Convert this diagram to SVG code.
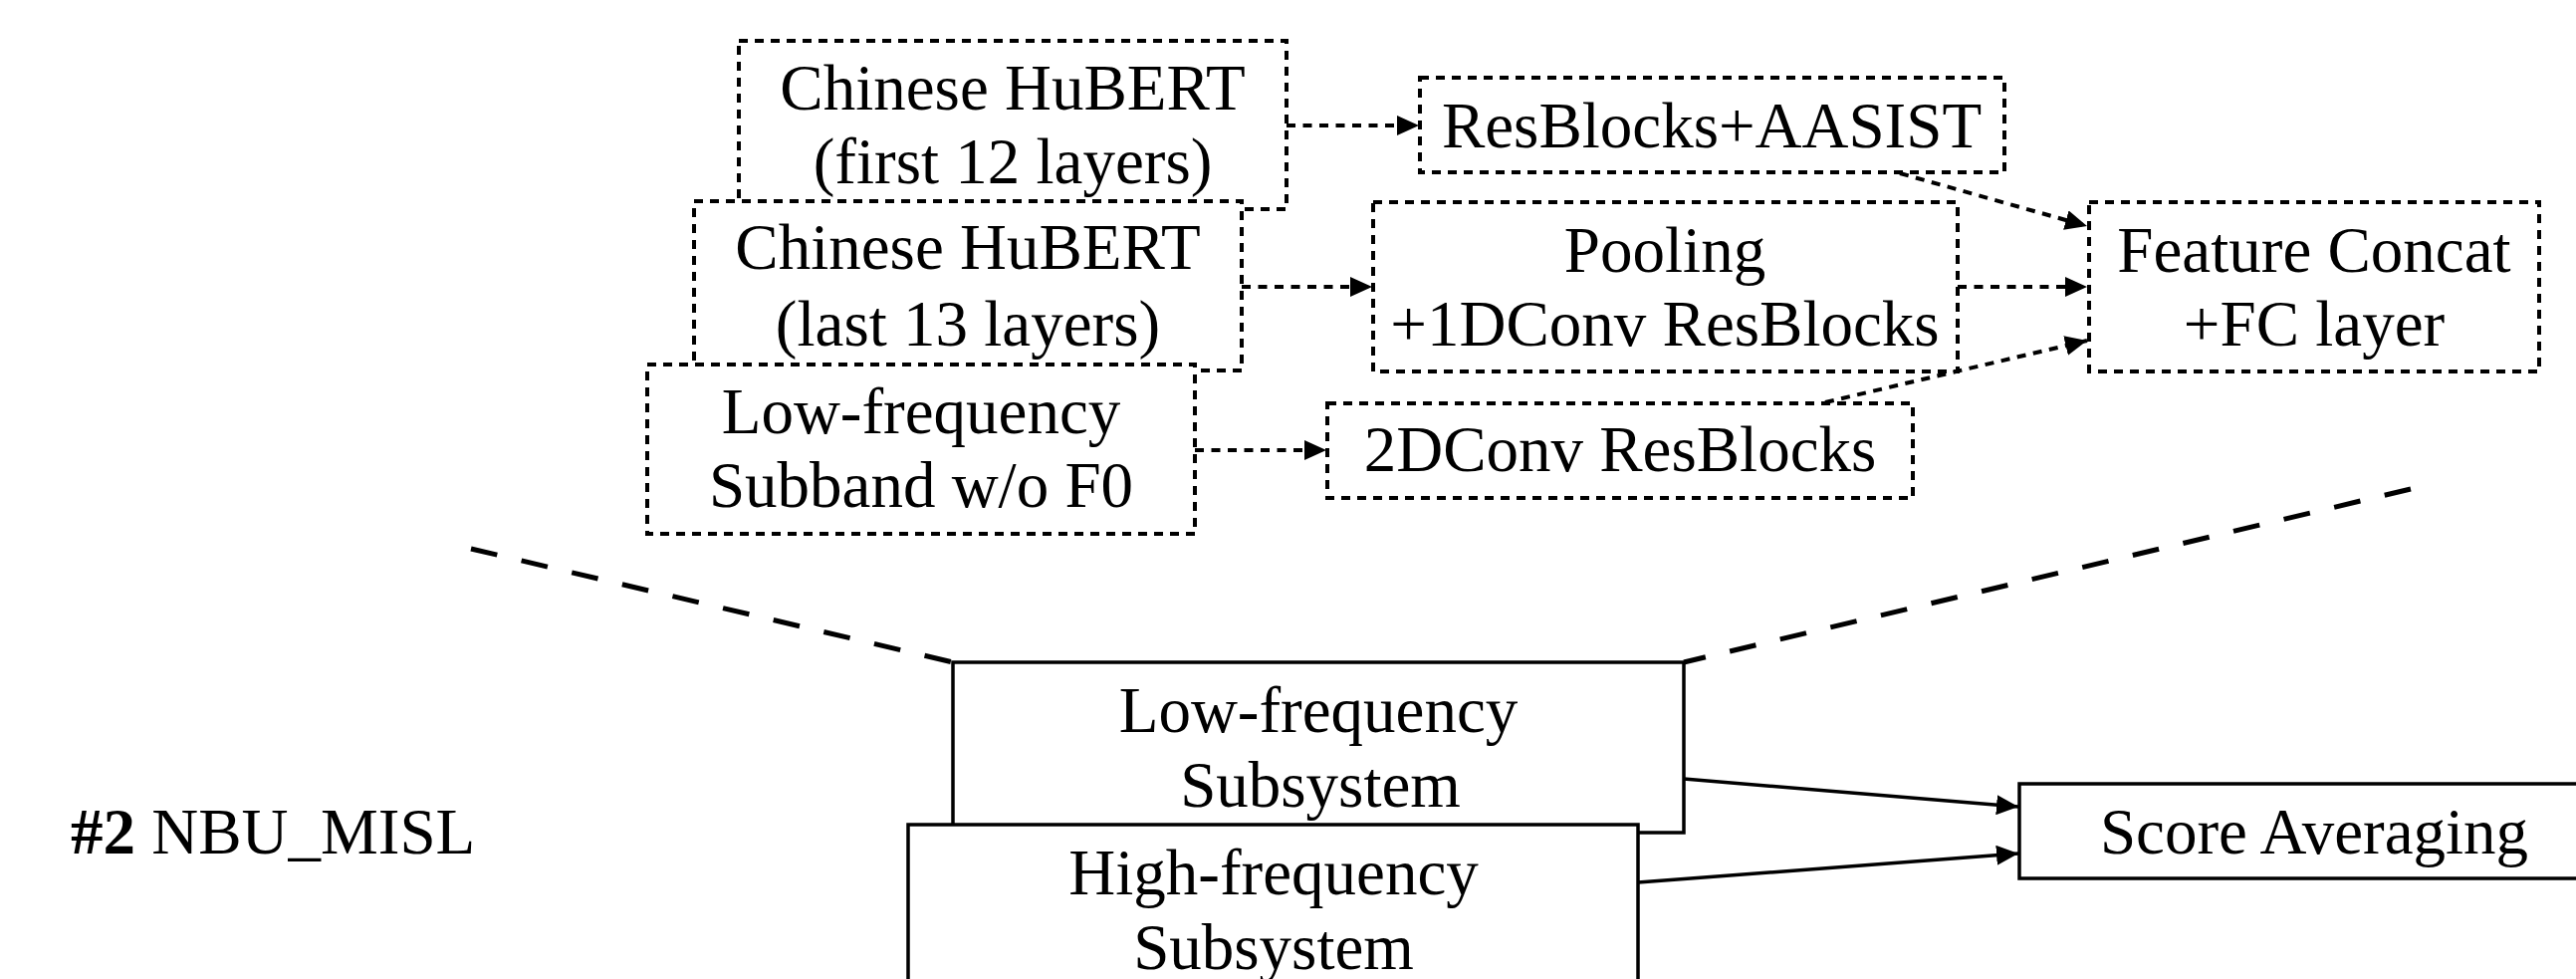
<svg xmlns="http://www.w3.org/2000/svg" width="2587" height="983" viewBox="0 0 2587 983">
  <defs>
    <marker id="head" viewBox="0 0 22 20" refX="22" refY="10" markerWidth="22" markerHeight="20" markerUnits="userSpaceOnUse" orient="auto">
      <path d="M0,0 L22,10 L0,20 Z" fill="#000"/>
    </marker>
    <style>
      .dbox { fill: #fff; stroke: #000; stroke-width: 4; stroke-dasharray: 9 7; }
      .sbox { fill: #fff; stroke: #000; stroke-width: 3.5; }
      .dlink { fill: none; stroke: #000; stroke-width: 4; stroke-dasharray: 9 7.5; marker-end: url(#head); }
      .slink { fill: none; stroke: #000; stroke-width: 3.5; marker-end: url(#head); }
      .zoom { fill: none; stroke: #000; stroke-width: 5; stroke-dasharray: 27 25; }
      text { font-family: "Liberation Serif", "Times New Roman", serif; font-size: 65px; fill: #000; }
      .c { text-anchor: middle; }
    </style>
  </defs>
  <rect width="2587" height="983" fill="#fff"/>

  <!-- expansion lines from the low-frequency subsystem to its detail view -->
  <g id="zoom-lines">
    <line class="zoom" x1="473" y1="551" x2="957" y2="665"/>
    <line class="zoom" x1="2421" y1="491" x2="1691" y2="665"/>
  </g>

  <!-- detail view: low-frequency subsystem internals -->
  <g id="hubert-first">
    <rect class="dbox" x="742" y="41" width="550" height="169"/>
    <text class="c" x="1017" y="110">Chinese HuBERT</text>
    <text class="c" x="1017" y="184">(first 12 layers)</text>
  </g>
  <g id="hubert-last">
    <rect class="dbox" x="697" y="202" width="550" height="170"/>
    <text class="c" x="972" y="270">Chinese HuBERT</text>
    <text class="c" x="972" y="347">(last 13 layers)</text>
  </g>
  <g id="subband">
    <rect class="dbox" x="650" y="366" width="550" height="170"/>
    <text class="c" x="925" y="435">Low-frequency</text>
    <text class="c" x="925" y="509">Subband w/o F0</text>
  </g>
  <g id="resblocks-aasist">
    <rect class="dbox" x="1426" y="78" width="587" height="95"/>
    <text class="c" x="1719" y="148">ResBlocks+AASIST</text>
  </g>
  <g id="pooling">
    <rect class="dbox" x="1379" y="203" width="587" height="170"/>
    <text class="c" x="1672" y="273">Pooling</text>
    <text class="c" x="1672" y="347">+1DConv ResBlocks</text>
  </g>
  <g id="conv2d">
    <rect class="dbox" x="1333" y="405" width="588" height="95"/>
    <text class="c" x="1627" y="473">2DConv ResBlocks</text>
  </g>
  <g id="feature-concat">
    <rect class="dbox" x="2098" y="203" width="452" height="170"/>
    <text class="c" x="2324" y="273">Feature Concat</text>
    <text class="c" x="2324" y="347">+FC layer</text>
  </g>

  <!-- overall system -->
  <g id="low-subsystem">
    <rect class="sbox" x="957" y="665" width="734" height="171"/>
    <text class="c" x="1324" y="735">Low-frequency</text>
    <text class="c" x="1326" y="810">Subsystem</text>
  </g>
  <g id="high-subsystem">
    <rect class="sbox" x="912" y="828" width="733" height="180"/>
    <text class="c" x="1279" y="898">High-frequency</text>
    <text class="c" x="1279" y="973">Subsystem</text>
  </g>
  <g id="score-averaging">
    <rect class="sbox" x="2028" y="787" width="595" height="95"/>
    <text class="c" x="2324" y="857">Score Averaging</text>
  </g>
  <g id="team-label">
    <text x="71" y="857"><tspan font-weight="bold">#2</tspan> NBU_MISL</text>
  </g>

  <g id="connectors">
    <path class="dlink" d="M1292,126 L1425,126"/>
    <path class="dlink" d="M1247,288 L1378,288"/>
    <path class="dlink" d="M1200,452 L1332,452"/>
    <path class="dlink" d="M1908,174 L2096,227"/>
    <path class="dlink" d="M1966,288 L2096,288"/>
    <path class="dlink" d="M1833,404 L2096,342"/>
    <path class="slink" d="M1691,782 L2027,810"/>
    <path class="slink" d="M1645,886 L2027,857"/>
  </g>
</svg>
